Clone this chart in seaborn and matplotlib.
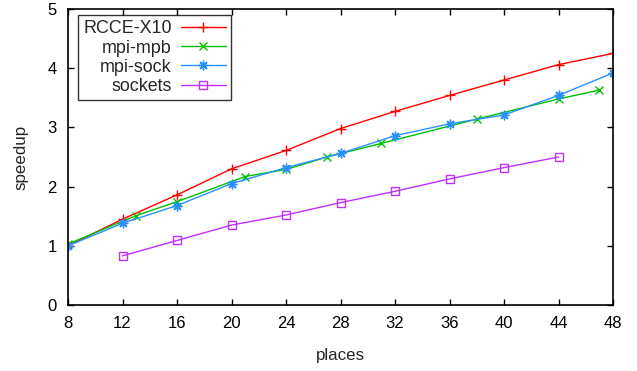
import matplotlib
matplotlib.use("Agg")
import matplotlib.pyplot as plt
import seaborn as sns
import pandas as pd

# Speedup measurements per runtime
rcce_places = [8, 12, 16, 20, 24, 28, 32, 36, 40, 44, 48]
rcce_speedup = [1.00, 1.45, 1.86, 2.30, 2.61, 2.98, 3.27, 3.54, 3.80, 4.06, 4.25]

mpb_places = [8, 13, 16, 21, 24, 27, 31, 38, 44, 47]
mpb_speedup = [1.03, 1.51, 1.745, 2.17, 2.29, 2.50, 2.73, 3.14, 3.48, 3.63]

sock_places = [8, 12, 16, 20, 24, 28, 32, 36, 40, 44, 48]
sock_speedup = [1.00, 1.38, 1.68, 2.05, 2.32, 2.56, 2.86, 3.06, 3.21, 3.54, 3.92]

sockets_places = [12, 16, 20, 24, 28, 32, 36, 40, 44]
sockets_speedup = [0.83, 1.09, 1.35, 1.52, 1.73, 1.92, 2.13, 2.32, 2.50]

series_names = ["RCCE-X10", "mpi-mpb", "mpi-sock", "sockets"]
x_ticks = [8, 12, 16, 20, 24, 28, 32, 36, 40, 44, 48]
y_ticks = [0, 1, 2, 3, 4, 5]

frames = []
for name, xs, ys in zip(series_names,
                        [rcce_places, mpb_places, sock_places, sockets_places],
                        [rcce_speedup, mpb_speedup, sock_speedup, sockets_speedup]):
    frames.append(pd.DataFrame({"places": xs, "speedup": ys, "series": name}))
df = pd.concat(frames, ignore_index=True)

sns.set_style("white")
plt.rcParams["font.family"] = ["Liberation Sans", "DejaVu Sans"]

fig = plt.figure(figsize=(6.37, 3.71), dpi=100)
ax = fig.add_axes([68 / 637, 66 / 371, (613 - 68) / 637, (305 - 9) / 371])

styles = {
    "RCCE-X10": dict(color="#ff0000", marker="+", ms=7),
    "mpi-mpb": dict(color="#00c000", marker="x", ms=5.5),
    "mpi-sock": dict(color="#2a90ff", marker=(8, 2, 0), ms=7),
    "sockets": dict(color="#c030ff", marker="s", ms=6),
}

for name in series_names:
    st = styles[name]
    sub = df[df["series"] == name]
    sns.lineplot(data=sub, x="places", y="speedup", ax=ax, label=name,
                 color=st["color"], marker=st["marker"], markersize=st["ms"],
                 markerfacecolor="none", markeredgecolor=st["color"],
                 markeredgewidth=1.0, linewidth=1.0, estimator=None,
                 errorbar=None, sort=False)

ax.set_xlim(8, 48)
ax.set_ylim(0, 5)
ax.set_xticks(x_ticks)
ax.set_yticks(y_ticks)
ax.set_xticklabels([str(v) for v in x_ticks])
ax.set_yticklabels([str(v) for v in y_ticks])
ax.tick_params(direction="in", length=4.5, width=1.0, top=True, right=True,
               bottom=True, left=True, labelsize=12, colors="black", pad=8)
for sp in ax.spines.values():
    sp.set_visible(True)
    sp.set_color("black")
    sp.set_linewidth(1.2)

ax.set_xlabel("places", fontsize=12.2, labelpad=12)
ax.set_ylabel("speedup", fontsize=12.2, labelpad=14)

# markerfirst=False puts the label left of the sample and right-aligns rows
leg = ax.legend(loc="upper left", bbox_to_anchor=(10 / 545, 1 - 6 / 296),
                markerfirst=False, frameon=True, fancybox=False,
                fontsize=12.9, handlelength=2.5, handletextpad=0.5,
                labelspacing=0.12, borderpad=0.3, borderaxespad=0.0)
leg.get_frame().set_edgecolor("black")
leg.get_frame().set_linewidth(1.0)

fig.savefig("out.png", dpi=100)
